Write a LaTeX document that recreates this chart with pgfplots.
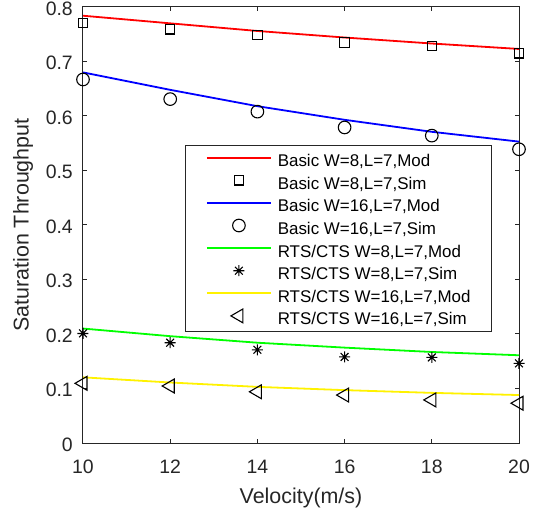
\documentclass[border=0pt]{standalone}
\usepackage{fontspec}
\setmainfont{Liberation Sans}
\usepackage{pgfplots}
\pgfplotsset{compat=1.18}
\definecolor{axgray}{gray}{0.15}
% eight-armed asterisk like MATLAB's '*'
\pgfdeclareplotmark{star8}{%
  \pgfpathmoveto{\pgfqpoint{-\pgfplotmarksize}{0pt}}\pgfpathlineto{\pgfqpoint{\pgfplotmarksize}{0pt}}%
  \pgfpathmoveto{\pgfqpoint{0pt}{-\pgfplotmarksize}}\pgfpathlineto{\pgfqpoint{0pt}{\pgfplotmarksize}}%
  \pgfpathmoveto{\pgfqpoint{-0.707\pgfplotmarksize}{-0.707\pgfplotmarksize}}\pgfpathlineto{\pgfqpoint{0.707\pgfplotmarksize}{0.707\pgfplotmarksize}}%
  \pgfpathmoveto{\pgfqpoint{-0.707\pgfplotmarksize}{0.707\pgfplotmarksize}}\pgfpathlineto{\pgfqpoint{0.707\pgfplotmarksize}{-0.707\pgfplotmarksize}}%
  \pgfusepathqstroke}
\begin{document}
\begin{tikzpicture}
\begin{axis}[
  at={(0,0)}, anchor=south west,
  scale only axis, width=436bp, height=436bp,
  xmin=10, xmax=20, ymin=0, ymax=0.8,
  xtick={10,12,14,16,18,20},
  ytick={0,0.1,0.2,0.3,0.4,0.5,0.6,0.7,0.8},
  tick align=inside, tick pos=both,
  major tick length=4.5bp,
  axis line style={axgray, line width=1bp},
  every tick/.style={axgray, line width=1bp},
  /pgf/number format/assume math mode=true,
  ticklabel style={font=\fontsize{19.5}{23}\selectfont, text=axgray, inner sep=0pt},
  xticklabel style={anchor=north, yshift=-17bp},
  yticklabel style={anchor=east, xshift=-10bp, yshift=-1.5bp},
  xlabel={Velocity(m/s)},
  ylabel={Saturation Throughput},
  every axis x label/.style={at={(axis description cs:0.5,0)}, anchor=north, yshift=-45bp,
    font=\fontsize{21.5}{25}\selectfont, text=axgray, inner sep=0pt},
  every axis y label/.style={at={(axis description cs:0,0.5)}, xshift=-70bp, rotate=90, anchor=north,
    font=\fontsize{21.5}{25}\selectfont, text=axgray, inner sep=0pt},
  legend image code/.code={\draw[mark repeat=2,mark phase=2,#1] plot coordinates {(0bp,2bp) (32bp,2bp) (64bp,2bp)};},
  legend cell align=left,
  legend style={at={(rel axis cs:0.938,0.683)}, anchor=north east,
    draw=axgray, line width=1bp, fill=white,
    font=\fontsize{17}{20}\selectfont,
    inner xsep=21bp, inner ysep=2.7bp,
    nodes={inner sep=0pt, text height=18.3bp, text depth=4.3bp},
    column sep=6bp, row sep=0pt},
]
\addplot[red, line width=1.8bp, mark=none] coordinates {
  (10,0.784) (12,0.770) (14,0.756) (16,0.744) (18,0.733) (20,0.723)};
\addlegendentry{Basic W=8,L=7,Mod}
\addplot[only marks, mark=square, mark size=4.7bp, black, line width=1.1bp] coordinates {
  (10,0.771) (12,0.759) (14,0.749) (16,0.735) (18,0.728) (20,0.715)};
\addlegendentry{Basic W=8,L=7,Sim}
\addplot[blue, line width=1.8bp, mark=none] coordinates {
  (10,0.680) (12,0.648) (14,0.618) (16,0.593) (18,0.571) (20,0.553)};
\addlegendentry{Basic W=16,L=7,Mod}
\addplot[only marks, mark=o, mark size=6.3bp, black, line width=1.1bp] coordinates {
  (10,0.667) (12,0.631) (14,0.608) (16,0.579) (18,0.564) (20,0.539)};
\addlegendentry{Basic W=16,L=7,Sim}
\addplot[green, line width=1.8bp, mark=none] coordinates {
  (10,0.210) (12,0.196) (14,0.184) (16,0.175) (18,0.167) (20,0.161)};
\addlegendentry{RTS/CTS W=8,L=7,Mod}
\addplot[only marks, mark=star8, mark size=5.5bp, black, line width=1.1bp] coordinates {
  (10,0.201) (12,0.184) (14,0.171) (16,0.158) (18,0.157) (20,0.146)};
\addlegendentry{RTS/CTS W=8,L=7,Sim}
\addplot[yellow, line width=1.8bp, mark=none] coordinates {
  (10,0.1205) (12,0.111) (14,0.103) (16,0.097) (18,0.092) (20,0.088)};
\addlegendentry{RTS/CTS W=16,L=7,Mod}
\addplot[only marks, mark=triangle, mark size=8bp, mark options={rotate=90}, black, line width=1.1bp] coordinates {
  (10,0.1095) (12,0.1046) (14,0.094) (16,0.088) (18,0.079) (20,0.073)};
\addlegendentry{RTS/CTS W=16,L=7,Sim}
\end{axis}
\pgfresetboundingbox
\useasboundingbox (-83bp,-73bp) rectangle (456bp,443bp);
\end{tikzpicture}
\end{document}
